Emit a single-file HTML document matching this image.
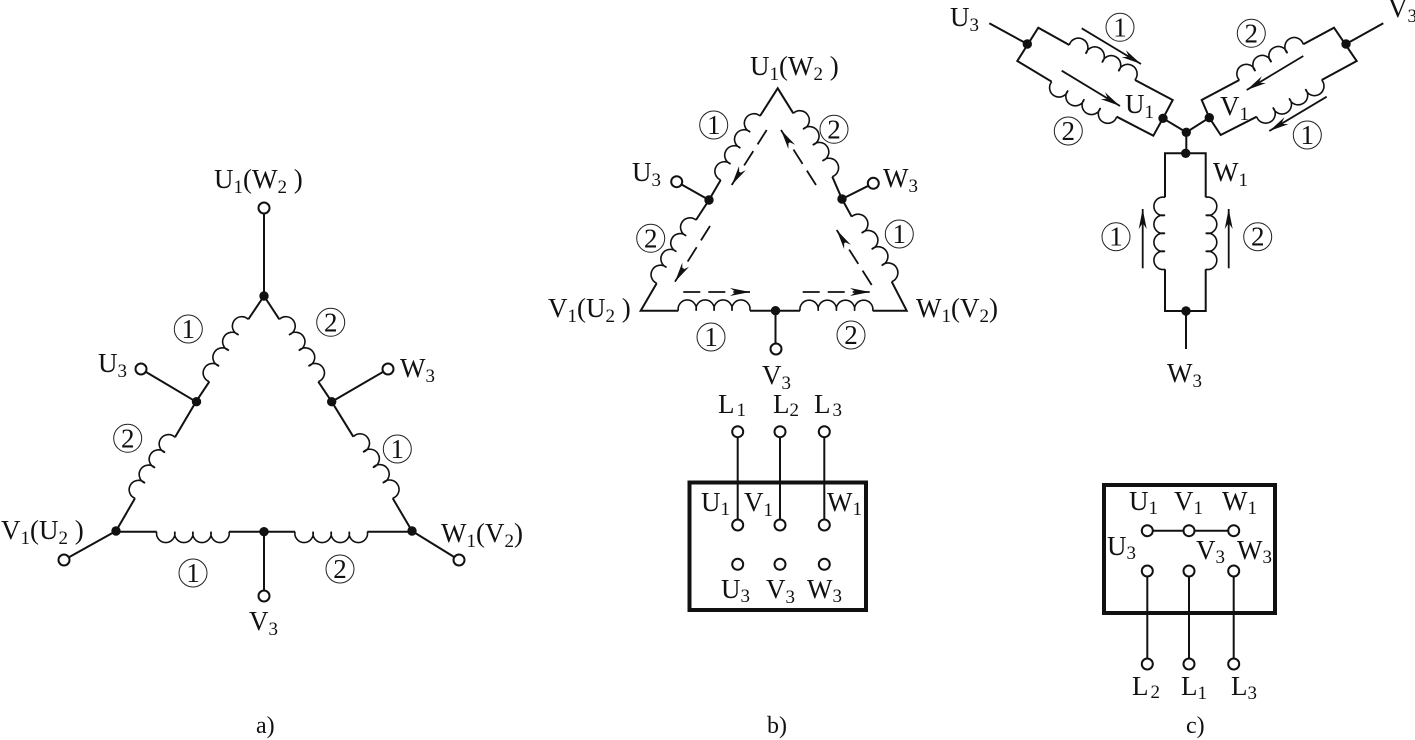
<!DOCTYPE html>
<html><head><meta charset="utf-8"><style>
html,body{margin:0;padding:0;background:#fff}
svg{display:block}
text{font-family:"Liberation Serif",serif;font-size:27px;fill:#111}
tspan.s{font-size:19px}
text.n{font-size:27px;text-anchor:middle}
.l{stroke:#111;stroke-width:2;fill:none}
.c{stroke:#111;stroke-width:1.6;fill:none}
.o{stroke:#111;stroke-width:2;fill:#fff}
.k{stroke:#222;stroke-width:1;fill:none}
.b{stroke:#111;stroke-width:4;fill:none}
.d{stroke:#111;stroke-width:1.8;fill:none;stroke-dasharray:17 8}
.a{stroke:#111;stroke-width:1.8;fill:none}
</style></head><body>
<svg width="1415" height="740" viewBox="0 0 1415 740" xmlns="http://www.w3.org/2000/svg">
<defs><marker id="m" markerUnits="userSpaceOnUse" markerWidth="24" markerHeight="12" refX="20" refY="6" orient="auto"><path d="M0,2 L20,6 L0,10 L6,6 z" fill="#111"/></marker></defs>

<!-- a -->
<path class="l" d="M264,208V296L248.3,319.3M264,296L279.3,319.3M209.3,381.7L196,401.7L175,437.3M135,498.3L116,531L64,560M141,369L196,401.7M388,369L331.7,401.7M318.3,381.7L331.7,401.7L353.3,436.7M392.7,498.3L412,531L459,560M116,531.7H156.7M229,531.7H295M367.3,531.7H412M264,531.7V596"/>
<path class="c" d="M248.3,319.3a9.4,9.4 0 1 0 -9.75,15.6a9.4,9.4 0 1 0 -9.75,15.6a9.4,9.4 0 1 0 -9.75,15.6a9.4,9.4 0 1 0 -9.75,15.6"/>
<path class="c" d="M279.3,319.3a9.4,9.4 0 1 1 9.75,15.6a9.4,9.4 0 1 1 9.75,15.6a9.4,9.4 0 1 1 9.75,15.6a9.4,9.4 0 1 1 9.75,15.6"/>
<path class="c" d="M175,437.3a9.3,9.3 0 1 0 -10,15.25a9.3,9.3 0 1 0 -10,15.25a9.3,9.3 0 1 0 -10,15.25a9.3,9.3 0 1 0 -10,15.25"/>
<path class="c" d="M353.3,436.7a9.4,9.4 0 1 1 9.85,15.4a9.4,9.4 0 1 1 9.85,15.4a9.4,9.4 0 1 1 9.85,15.4a9.4,9.4 0 1 1 9.85,15.4"/>
<path class="c" d="M156.7,531.7a9.2,9.2 0 1 0 18.1,0a9.2,9.2 0 1 0 18.1,0a9.2,9.2 0 1 0 18.1,0a9.2,9.2 0 1 0 18.1,0"/>
<path class="c" d="M295,531.7a9.2,9.2 0 1 0 18.1,0a9.2,9.2 0 1 0 18.1,0a9.2,9.2 0 1 0 18.1,0a9.2,9.2 0 1 0 18.1,0"/>
<g fill="#111"><circle cx="264" cy="296" r="4.7"/><circle cx="196.5" cy="401.7" r="4.7"/><circle cx="331.7" cy="401.7" r="4.7"/><circle cx="116" cy="531" r="4.7"/><circle cx="264" cy="531.7" r="4.7"/><circle cx="412" cy="531" r="4.7"/></g>
<g class="o"><circle cx="264" cy="208" r="5.5"/><circle cx="141" cy="369" r="5.5"/><circle cx="388" cy="369" r="5.5"/><circle cx="64" cy="560" r="5.5"/><circle cx="459" cy="560" r="5.5"/><circle cx="264" cy="596" r="5.5"/></g>
<g class="k"><circle cx="188.3" cy="329" r="14"/><circle cx="330.7" cy="322.3" r="14"/><circle cx="127.7" cy="438.3" r="14"/><circle cx="397.3" cy="449" r="14"/><circle cx="193" cy="573" r="14"/><circle cx="340" cy="569" r="14"/></g>
<text class="n" x="188.3" y="338">1</text><text class="n" x="330.7" y="331.3">2</text><text class="n" x="127.7" y="447.3">2</text><text class="n" x="397.3" y="458">1</text><text class="n" x="193" y="582">1</text><text class="n" x="340" y="578">2</text>
<text x="214" y="188">U<tspan class="s" dy="5">1</tspan><tspan dy="-5">(W</tspan><tspan class="s" dy="5">2</tspan><tspan dy="-5"> )</tspan></text>
<text x="98" y="372">U<tspan class="s" dy="5">3</tspan></text>
<text x="400" y="377">W<tspan class="s" dy="5">3</tspan></text>
<text x="1" y="539">V<tspan class="s" dy="5">1</tspan><tspan dy="-5">(U</tspan><tspan class="s" dy="5">2</tspan><tspan dy="-5"> )</tspan></text>
<text x="441" y="542">W<tspan class="s" dy="5">1</tspan><tspan dy="-5">(V</tspan><tspan class="s" dy="5">2</tspan><tspan dy="-5">)</tspan></text>
<text x="249" y="630">V<tspan class="s" dy="5">3</tspan></text>
<text x="256" y="733" style="font-size:24px">a)</text>

<!-- b -->
<path class="l" d="M760,116L777.7,88.3L793.3,113.3M720.7,180L709,200L696,220M656.7,283.3L640.7,310.7H678.3M676.7,181.7L709,200M873.3,183.3L842,199M832.3,176.7L842,199L851.7,216.7M891.7,281.7L906.7,310.7H872.7M750,310.7H800M775.5,310.7V349"/>
<path class="c" d="M760,116a9.5,9.5 0 1 0 -9.83,16a9.5,9.5 0 1 0 -9.83,16a9.5,9.5 0 1 0 -9.83,16a9.5,9.5 0 1 0 -9.83,16"/>
<path class="c" d="M793.3,113.3a9.5,9.5 0 1 1 9.75,15.85a9.5,9.5 0 1 1 9.75,15.85a9.5,9.5 0 1 1 9.75,15.85a9.5,9.5 0 1 1 9.75,15.85"/>
<path class="c" d="M696,220a9.4,9.4 0 1 0 -9.83,15.8a9.4,9.4 0 1 0 -9.83,15.8a9.4,9.4 0 1 0 -9.83,15.8a9.4,9.4 0 1 0 -9.83,15.8"/>
<path class="c" d="M851.7,216.7a9.7,9.7 0 1 1 10,16.25a9.7,9.7 0 1 1 10,16.25a9.7,9.7 0 1 1 10,16.25a9.7,9.7 0 1 1 10,16.25"/>
<path class="c" d="M678.3,310.7a9.1,9.1 0 1 1 17.9,0a9.1,9.1 0 1 1 17.9,0a9.1,9.1 0 1 1 17.9,0a9.1,9.1 0 1 1 17.9,0"/>
<path class="c" d="M800,310.7a9.2,9.2 0 1 1 18.2,0a9.2,9.2 0 1 1 18.2,0a9.2,9.2 0 1 1 18.2,0a9.2,9.2 0 1 1 18.2,0"/>
<line class="d" x1="766.7" y1="130" x2="731.7" y2="185" marker-end="url(#m)"/>
<line class="d" x1="710" y1="226" x2="675" y2="281.7" marker-end="url(#m)"/>
<line class="d" x1="683.3" y1="292" x2="750" y2="292" marker-end="url(#m)"/>
<line class="d" x1="802.7" y1="292" x2="870" y2="292" marker-end="url(#m)"/>
<line class="d" x1="871.7" y1="285" x2="836.7" y2="230" marker-end="url(#m)"/>
<line class="d" x1="816" y1="185" x2="781" y2="130" marker-end="url(#m)"/>
<g fill="#111"><circle cx="709" cy="200" r="4.7"/><circle cx="842" cy="199" r="4.7"/><circle cx="775.5" cy="310.7" r="4.7"/></g>
<g class="o"><circle cx="676.7" cy="181.7" r="5.5"/><circle cx="873.3" cy="183.3" r="5.5"/><circle cx="776" cy="349" r="5.5"/></g>
<g class="k"><circle cx="713.7" cy="125" r="14"/><circle cx="834" cy="129.3" r="14"/><circle cx="650.7" cy="238.3" r="14"/><circle cx="899.3" cy="234" r="14"/><circle cx="711" cy="337" r="14"/><circle cx="851" cy="335" r="14"/></g>
<text class="n" x="713.7" y="134">1</text><text class="n" x="834" y="138.3">2</text><text class="n" x="650.7" y="247.3">2</text><text class="n" x="899.3" y="243">1</text><text class="n" x="711" y="346">1</text><text class="n" x="851" y="344">2</text>
<text x="750" y="75">U<tspan class="s" dy="5">1</tspan><tspan dy="-5">(W</tspan><tspan class="s" dy="5">2</tspan><tspan dy="-5"> )</tspan></text>
<text x="632" y="181">U<tspan class="s" dy="5">3</tspan></text>
<text x="883" y="187">W<tspan class="s" dy="5">3</tspan></text>
<text x="548" y="317">V<tspan class="s" dy="5">1</tspan><tspan dy="-5">(U</tspan><tspan class="s" dy="5">2</tspan><tspan dy="-5"> )</tspan></text>
<text x="916" y="317">W<tspan class="s" dy="5">1</tspan><tspan dy="-5">(V</tspan><tspan class="s" dy="5">2</tspan><tspan dy="-5">)</tspan></text>
<text x="762" y="384">V<tspan class="s" dy="5">3</tspan></text>
<text x="767" y="733" style="font-size:24px">b)</text>

<rect class="b" x="689.5" y="482.5" width="176.5" height="127.5"/>
<path class="l" d="M737.7,431.7V525M780,431.7V525M824.3,431.7V525"/>
<g class="o"><circle cx="737.7" cy="431.7" r="5.5"/><circle cx="780" cy="431.7" r="5.5"/><circle cx="824.3" cy="431.7" r="5.5"/><circle cx="737.7" cy="525" r="5.5"/><circle cx="780" cy="525" r="5.5"/><circle cx="824.3" cy="525" r="5.5"/><circle cx="737.7" cy="564.3" r="5.5"/><circle cx="780" cy="564.3" r="5.5"/><circle cx="824.3" cy="564.3" r="5.5"/></g>
<text x="718" y="413">L<tspan class="s" dx="2" dy="3">1</tspan></text>
<text x="773" y="413">L<tspan class="s" dy="3">2</tspan></text>
<text x="814" y="413">L<tspan class="s" dx="2" dy="3">3</tspan></text>
<text x="701" y="511">U<tspan class="s" dy="4">1</tspan></text>
<text x="744" y="511">V<tspan class="s" dy="5">1</tspan></text>
<text x="827" y="511">W<tspan class="s" dy="4">1</tspan></text>
<text x="721" y="598">U<tspan class="s" dy="4">3</tspan></text>
<text x="766" y="598">V<tspan class="s" dy="5">3</tspan></text>
<text x="807" y="598">W<tspan class="s" dy="4">3</tspan></text>

<!-- c -->
<path class="l" d="M989.3,23.3L1027.3,44M1069.3,45L1038.3,27.7L1017.3,61L1051.7,81.7M1135,80L1172.7,100L1163,118.3L1153.3,135.7L1116.7,116.7M1163,118.3L1186.3,132.3L1209.3,117.7M1383.3,23.3L1346,44M1303.3,44.3L1334,27.7L1356.7,61L1321.7,80M1239.3,80L1201.7,100L1209.3,117.7L1220.7,135L1256.7,116.7M1186.3,132.3V153.3M1165,197.3V153.3H1205.7V197.3M1165,269.3V311H1205.7V269.3M1186,311V349"/>
<path class="c" d="M1069.3,45a9.5,9.5 0 1 1 16.4,8.75a9.5,9.5 0 1 1 16.4,8.75a9.5,9.5 0 1 1 16.4,8.75a9.5,9.5 0 1 1 16.4,8.75"/>
<path class="c" d="M1051.7,81.7a9.4,9.4 0 1 0 16.25,8.75a9.4,9.4 0 1 0 16.25,8.75a9.4,9.4 0 1 0 16.25,8.75a9.4,9.4 0 1 0 16.25,8.75"/>
<path class="c" d="M1303.3,44.3a9.4,9.4 0 1 0 -16,8.93a9.4,9.4 0 1 0 -16,8.93a9.4,9.4 0 1 0 -16,8.93a9.4,9.4 0 1 0 -16,8.93"/>
<path class="c" d="M1321.7,80a9.5,9.5 0 1 1 -16.25,9.18a9.5,9.5 0 1 1 -16.25,9.18a9.5,9.5 0 1 1 -16.25,9.18a9.5,9.5 0 1 1 -16.25,9.18"/>
<path class="c" d="M1165,197.3a9.2,9.2 0 1 0 0,18a9.2,9.2 0 1 0 0,18a9.2,9.2 0 1 0 0,18a9.2,9.2 0 1 0 0,18"/>
<path class="c" d="M1205.7,197.3a9.2,9.2 0 1 1 0,18a9.2,9.2 0 1 1 0,18a9.2,9.2 0 1 1 0,18a9.2,9.2 0 1 1 0,18"/>
<line class="a" x1="1081.7" y1="28.3" x2="1141" y2="64" marker-end="url(#m)"/>
<line class="a" x1="1061.7" y1="70.7" x2="1120" y2="106" marker-end="url(#m)"/>
<line class="a" x1="1303.3" y1="56" x2="1246.7" y2="90" marker-end="url(#m)"/>
<line class="a" x1="1326.7" y1="96.7" x2="1269.3" y2="131" marker-end="url(#m)"/>
<line class="a" x1="1142.7" y1="268.3" x2="1142.7" y2="209" marker-end="url(#m)"/>
<line class="a" x1="1228.7" y1="268.3" x2="1228.7" y2="209" marker-end="url(#m)"/>
<g fill="#111"><circle cx="1027.3" cy="44" r="4.7"/><circle cx="1346" cy="44" r="4.7"/><circle cx="1163" cy="118.3" r="4.7"/><circle cx="1209.3" cy="117.7" r="4.7"/><circle cx="1186.3" cy="132.3" r="4.7"/><circle cx="1185.7" cy="153.3" r="4.7"/><circle cx="1186" cy="311" r="4.7"/></g>
<g class="k"><circle cx="1120" cy="27.3" r="14"/><circle cx="1251.3" cy="33.3" r="14"/><circle cx="1068.3" cy="131" r="14"/><circle cx="1307.3" cy="135" r="14"/><circle cx="1116" cy="236.7" r="14"/><circle cx="1257.7" cy="236.7" r="14"/></g>
<text class="n" x="1120" y="36.3">1</text><text class="n" x="1251.3" y="42.3">2</text><text class="n" x="1068.3" y="140">2</text><text class="n" x="1307.3" y="144">1</text><text class="n" x="1116" y="245.7">1</text><text class="n" x="1257.7" y="245.7">2</text>
<text x="950" y="26">U<tspan class="s" dy="5">3</tspan></text>
<text x="1388" y="17">V<tspan class="s" dy="5">3</tspan></text>
<text x="1125" y="113">U<tspan class="s" dy="5">1</tspan></text>
<text x="1220" y="115">V<tspan class="s" dy="5">1</tspan></text>
<text x="1213" y="181">W<tspan class="s" dy="5">1</tspan></text>
<text x="1167" y="382">W<tspan class="s" dy="5">3</tspan></text>
<text x="1186" y="733" style="font-size:24px">c)</text>

<rect class="b" x="1104" y="485" width="171" height="128"/>
<path class="l" d="M1147.3,530.7H1233.7M1147.3,571V664M1189,571V664M1233.7,571V664"/>
<g class="o"><circle cx="1147.3" cy="530.7" r="5.5"/><circle cx="1189" cy="530.7" r="5.5"/><circle cx="1233.7" cy="530.7" r="5.5"/><circle cx="1147.3" cy="571" r="5.5"/><circle cx="1189" cy="571" r="5.5"/><circle cx="1233.7" cy="571" r="5.5"/><circle cx="1147.3" cy="664" r="5.5"/><circle cx="1189" cy="664" r="5.5"/><circle cx="1233.7" cy="664" r="5.5"/></g>
<text x="1129" y="510">U<tspan class="s" dy="4">1</tspan></text>
<text x="1174" y="510">V<tspan class="s" dy="4">1</tspan></text>
<text x="1222" y="510">W<tspan class="s" dy="4">1</tspan></text>
<text x="1107" y="555">U<tspan class="s" dy="4">3</tspan></text>
<text x="1196" y="559">V<tspan class="s" dy="4">3</tspan></text>
<text x="1237" y="559">W<tspan class="s" dy="4">3</tspan></text>
<text x="1132" y="695">L<tspan class="s" dx="2" dy="3">2</tspan></text>
<text x="1181" y="695">L<tspan class="s" dy="4">1</tspan></text>
<text x="1231" y="695">L<tspan class="s" dy="4">3</tspan></text>
</svg>
</body></html>
